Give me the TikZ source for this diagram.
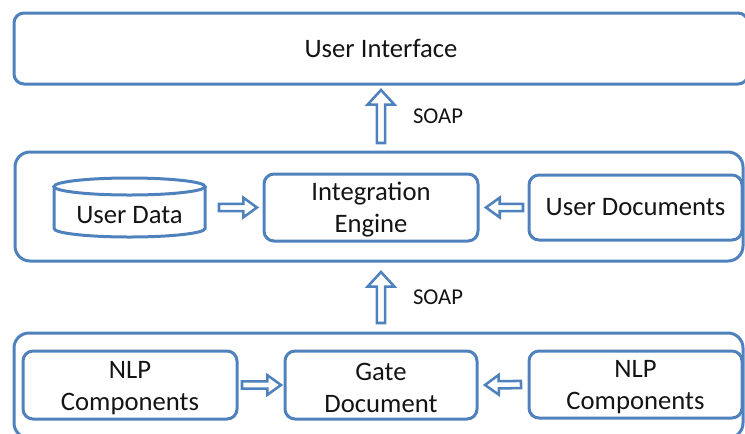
\documentclass[tikz,border=0pt]{standalone}
\usepackage{fontspec}
\setmainfont{Carlito}
\usetikzlibrary{calc}
\definecolor{frame}{RGB}{79,129,189}
\definecolor{ink}{RGB}{20,20,20}
% taller first line, so two-line labels sit a little lower in their boxes
\newcommand\firstline{\rule{0pt}{17.4pt}}
\begin{document}
\begin{tikzpicture}[x=0.75pt,y=-0.75pt,
  every node/.style={text=ink, font=\fontsize{20}{24}\selectfont,
    inner sep=0pt, outer sep=0pt},
  layer/.style={draw=frame, line width=2.25pt, rounded corners=11.25pt},
  unit/.style={draw=frame, line width=2.25pt, rounded corners=7.5pt, align=center},
  outline/.style={draw=frame, line width=2.25pt},
  soap/.style={font=\fontsize{17}{20}\selectfont},
  % hollow block arrow from the start point to the target point:
  % #1 = half shaft width, #2 = half head width, #3 = head length
  blockarrow/.style n args={3}{draw=frame, line width=1.9pt, line join=miter,
    to path={
      let \p1=(\tikztostart), \p2=(\tikztotarget),
          \n1={atan2(\y2-\y1,\x2-\x1)}, \n2={veclen(\x2-\x1,\y2-\y1)} in
      ([shift={(\p1)},rotate=\n1]0pt,-#1)
      -- ([shift={(\p1)},rotate=\n1]\n2-#3,-#1)
      -- ([shift={(\p1)},rotate=\n1]\n2-#3,-#2)
      -- ([shift={(\p1)},rotate=\n1]\n2,0pt)
      -- ([shift={(\p1)},rotate=\n1]\n2-#3,#2)
      -- ([shift={(\p1)},rotate=\n1]\n2-#3,#1)
      -- ([shift={(\p1)},rotate=\n1]0pt,#1)
      -- cycle}},
  bigarrow/.style={blockarrow={3.1pt}{10.1pt}{11pt}},
  smallarrow/.style={blockarrow={2.7pt}{7.4pt}{10.3pt}}
]
\useasboundingbox (0,0) rectangle (745,433);

% three layers
\node[layer, rounded corners=7.5pt, minimum width=550.5pt, minimum height=53.25pt]
  (ui) at (381,48.5) {User Interface};
\node[layer, minimum width=546pt, minimum height=81.75pt] (midlayer) at (379,206.5) {};
\node[layer, minimum width=546.75pt, minimum height=78.75pt] (botlayer) at (378.5,385.5) {};

% middle layer
\node[minimum width=113.25pt, minimum height=44.25pt,
  label={[yshift=-5.4pt]center:User Data}] (udata) at (129.5,207.5) {};
\draw[outline] ([yshift=-6.375pt]udata.north west)
  -- ([yshift=6.375pt]udata.south west)
  arc[start angle=180, end angle=360, x radius=56.625pt, y radius=6.375pt]
  -- ([yshift=-6.375pt]udata.north east);
\draw[outline] ([yshift=-6.375pt]udata.north)
  ellipse[x radius=56.625pt, y radius=6.375pt];
\node[unit, minimum width=160.5pt, minimum height=50.25pt] (ie) at (371,207.5)
  {\firstline Integration\\Engine};
\node[unit, minimum width=159.75pt, minimum height=48.75pt] (udocs) at (635.5,207.5)
  {User Documents};

% bottom layer
\node[unit, minimum width=160.5pt, minimum height=51pt] (nlpa) at (130,385)
  {\firstline NLP\\Components};
\node[unit, minimum width=144pt, minimum height=51pt] (gate) at (381,385)
  {\firstline Gate\\Document};
\node[unit, minimum width=159.75pt, minimum height=50.25pt] (nlpb) at (635.5,384.5)
  {\firstline NLP\\Components};

% SOAP links between the layers
\coordinate (a1s) at ([yshift=6.75pt]ui.south |- midlayer.north);
\coordinate (a1t) at ([yshift=-4.5pt]ui.south);
\coordinate (a2s) at ([yshift=7.5pt]gate.north |- botlayer.north);
\coordinate (a2t) at ([yshift=-8.25pt]gate.north |- midlayer.south);
\draw[bigarrow] (a1s) to (a1t);
\draw[bigarrow] (a2s) to (a2t);
\node[soap] (soapa) at (438,116) {SOAP};
\node[soap] (soapb) at (438,297) {SOAP};

% arrows inside the layers
\draw[smallarrow] ([xshift=10.5pt]udata.east) to ([xshift=-5.25pt]ie.west);
\draw[smallarrow] ([xshift=-4.5pt]udocs.west) to ([xshift=6pt]ie.east);
\draw[smallarrow] ([xshift=3.75pt]nlpa.east) to ([xshift=-3pt]gate.west);
\draw[smallarrow] ([xshift=-6pt]nlpb.west) to ([xshift=6pt]gate.east);
\end{tikzpicture}
\end{document}
